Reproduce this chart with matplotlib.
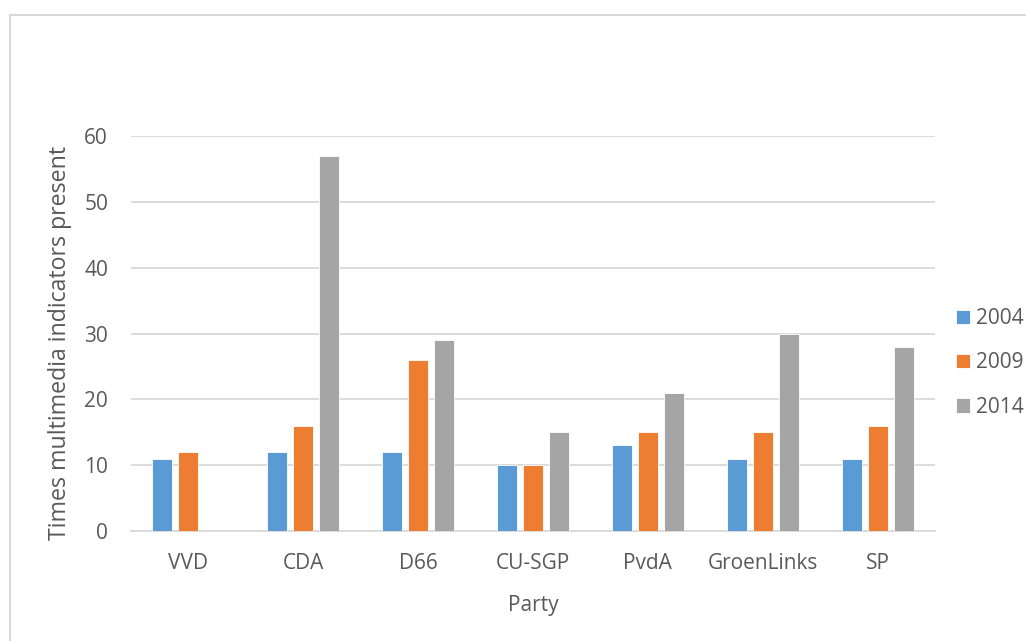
import numpy as np
import matplotlib
matplotlib.use('Agg')
import matplotlib.pyplot as plt
from matplotlib.lines import Line2D

# data
parties = ['VVD', 'CDA', 'D66', 'CU-SGP', 'PvdA', 'GroenLinks', 'SP']
years = ['2004', '2009', '2014']
v2004 = [11, 12, 12, 10, 13, 11, 11]
v2009 = [12, 16, 26, 10, 15, 15, 16]
v2014 = [np.nan, 57, 29, 15, 21, 30, 28]
colors = ['#5B9BD5', '#ED7D31', '#A5A5A5']

TXT = '#595959'
GRID = '#D9D9D9'
FS = 15

plt.rcParams['font.family'] = ['Open Sans', 'DejaVu Sans']

fig = plt.figure(figsize=(10.26, 6.41), dpi=100)
fig.patch.set_facecolor('white')

# outer chart frame (left and top edges visible)
fig.add_artist(Line2D([9.5 / 1026, 9.5 / 1026], [0, 1 - 14.5 / 641], color=GRID, lw=1.5))
fig.add_artist(Line2D([9.5 / 1026, 1], [1 - 14.5 / 641, 1 - 14.5 / 641], color=GRID, lw=1.5))

ax = fig.add_axes([131 / 1026, 1 - 531 / 641, 804 / 1026, 395 / 641])

x = np.arange(len(parties))
step = 0.226
width = 0.174
for i, (vals, yr) in enumerate(zip([v2004, v2009, v2014], years)):
    ax.bar(x + (i - 1) * step, vals, width=width, color=colors[i], label=yr,
           edgecolor='white', linewidth=0.6, zorder=3)

ax.set_xlim(-0.5, len(parties) - 0.5)
ax.set_ylim(0, 60)
ax.set_yticks(range(0, 61, 10))
ax.set_xticks(x)
ax.set_xticklabels(parties)

ax.yaxis.grid(True, color=GRID, lw=1.3, zorder=0)
ax.set_axisbelow(True)
for s in ['top', 'right', 'left']:
    ax.spines[s].set_visible(False)
ax.spines['bottom'].set_color(GRID)
ax.spines['bottom'].set_linewidth(1.3)
ax.tick_params(axis='both', length=0, colors=TXT, labelsize=FS)
ax.tick_params(axis='y', pad=16.5)
ax.tick_params(axis='x', pad=16)

ax.set_xlabel('Party', color=TXT, fontsize=FS, labelpad=15)
ax.set_ylabel('Times multimedia indicators present', color=TXT, fontsize=16.7)
ax.yaxis.set_label_coords(-0.074, 0.476)

leg = ax.legend(loc='center left', bbox_to_anchor=(956 / 1026, 1 - 363 / 641),
                bbox_transform=fig.transFigure, frameon=False, fontsize=FS,
                handlelength=0.68, handleheight=0.68, handletextpad=0.3,
                labelspacing=1.12, borderaxespad=0, borderpad=0)
for t in leg.get_texts():
    t.set_color(TXT)

fig.savefig('out.png', dpi=100)
